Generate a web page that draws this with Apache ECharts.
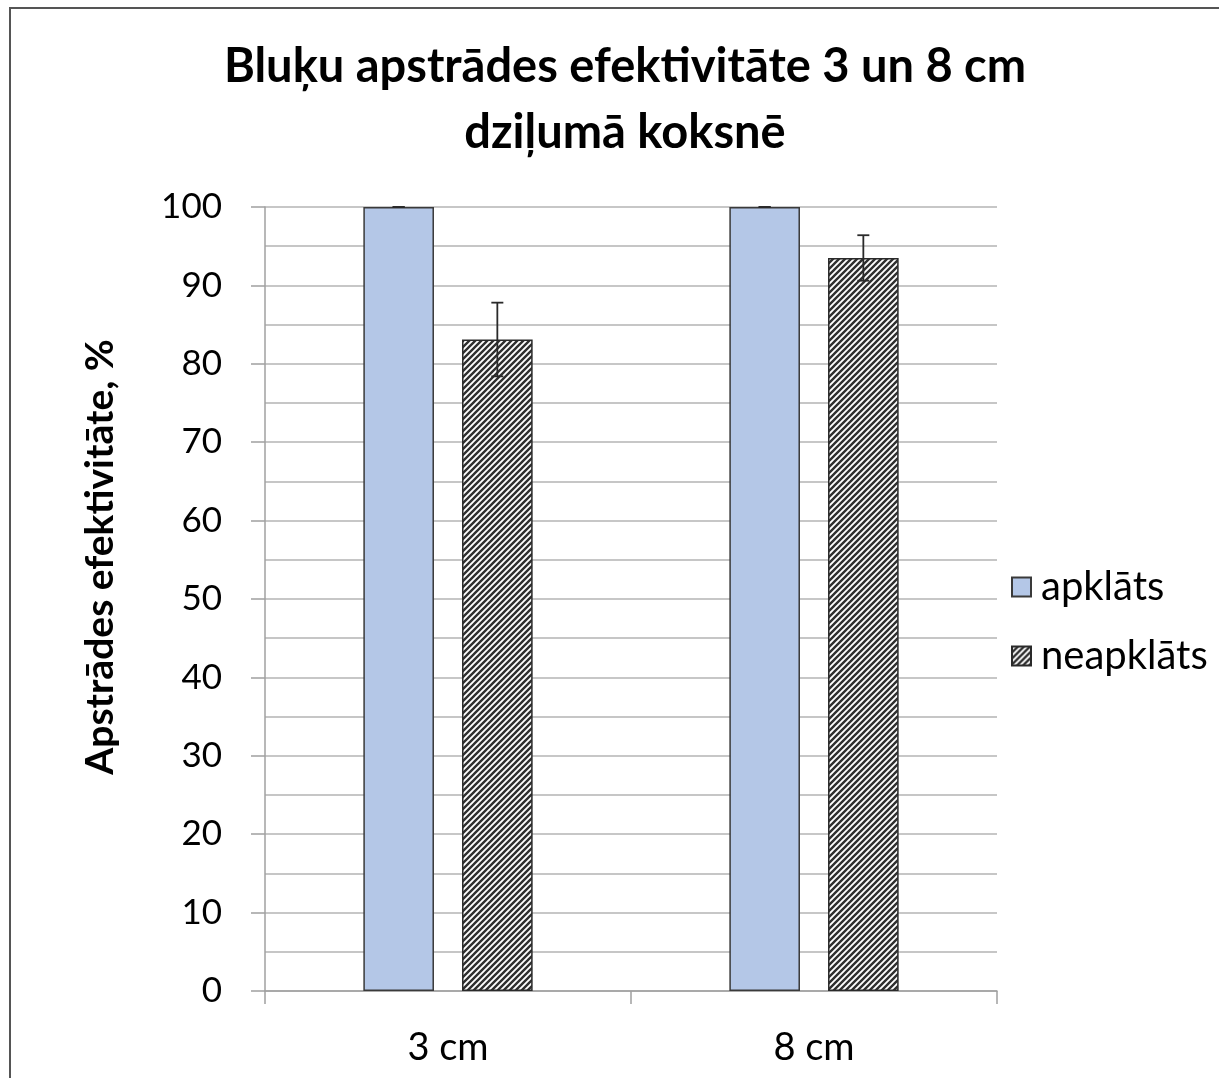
<!DOCTYPE html>
<html>
<head>
<meta charset="utf-8">
<script src="https://cdn.jsdelivr.net/npm/echarts@6/dist/echarts.min.js"></script>
<style>html,body{margin:0;padding:0;background:#fff;}#c{width:1219px;height:1078px;}</style>
</head>
<body>
<div id="c"></div>
<script>
const categories = ['3 cm', '8 cm'];
const seriesNames = ['apklāts', 'neapklāts'];
const apklats = [100, 100];
const neapklats = [83.1, 93.5];
const apklatsErr = [0, 0];
const neapklatsErr = [4.7, 2.9];
const yTicks = [0, 10, 20, 30, 40, 50, 60, 70, 80, 90, 100];
const yAxisTitle = 'Apstrādes efektivitāte, %';
const chartTitle = 'Bluķu apstrādes efektivitāte 3 un 8 cm\ndziļumā koksnē';

const FONT = 'Lato';

function hatch() {
  const s = 6;
  const c = document.createElement('canvas');
  c.width = s; c.height = s;
  const g = c.getContext('2d');
  g.fillStyle = '#ffffff';
  g.fillRect(0, 0, s, s);
  g.strokeStyle = '#303030';
  g.lineWidth = 2.4;
  g.beginPath();
  g.moveTo(-1, s + 1); g.lineTo(s + 1, -1);
  g.moveTo(-1 - s, s + 1); g.lineTo(1, -1);
  g.moveTo(s - 1, s + 1); g.lineTo(2 * s + 1, -1);
  g.stroke();
  return c;
}
const pattern = { image: hatch(), repeat: 'repeat' };

const BAR_W = 0.193, BAR_GAP = 0.397;

function errSeries(vals, errs, side) {
  return {
    type: 'custom',
    silent: true,
    z: 5,
    data: vals.map((v, i) => [i, v, errs[i]]),
    renderItem: function (params, api) {
      const i = api.value(0), v = api.value(1), e = api.value(2);
      const band = api.size([1, 0])[0];
      const off = side * band * BAR_W * (1 + BAR_GAP) / 2;
      const top = api.coord([i, v + e]);
      const bot = api.coord([i, v - e]);
      const x = top[0] + off;
      const cap = 6;
      const st = { stroke: '#2a2a2a', lineWidth: 1.8 };
      return {
        type: 'group',
        children: [
          { type: 'line', shape: { x1: x, y1: top[1], x2: x, y2: bot[1] }, style: st },
          { type: 'line', shape: { x1: x - cap, y1: top[1], x2: x + cap, y2: top[1] }, style: st },
          { type: 'line', shape: { x1: x - cap, y1: bot[1], x2: x + cap, y2: bot[1] }, style: st }
        ]
      };
    }
  };
}

const chart = echarts.init(document.getElementById('c'));
chart.setOption({
  backgroundColor: '#fff',
  animation: false,
  title: {
    text: chartTitle,
    left: 620,
    textAlign: 'center',
    top: 29,
    textStyle: { fontFamily: FONT, fontWeight: 'bold', fontSize: 47, lineHeight: 66, color: '#000' }
  },
  graphic: [{
    type: 'rect',
    shape: { x: 10, y: 8, width: 1400, height: 1200 },
    style: { fill: 'none', stroke: '#555', lineWidth: 2 },
    silent: true
  }, {
    type: 'text',
    x: 100, y: 557,
    rotation: Math.PI / 2,
    style: { text: yAxisTitle, fontFamily: FONT, fontWeight: 'bold', fontSize: 39, fill: '#000',
      align: 'center', verticalAlign: 'middle' },
    silent: true
  }],
  legend: {
    orient: 'vertical',
    left: 1006,
    top: 562,
    itemWidth: 19,
    itemHeight: 19,
    itemGap: 29,
    icon: 'rect',
    data: seriesNames,
    textStyle: { fontFamily: FONT, fontSize: 40, lineHeight: 40, color: '#000', padding: [0, 0, 0, 5] }
  },
  grid: { left: 265, right: 222, top: 207, bottom: 87, containLabel: false },
  xAxis: {
    type: 'category',
    data: categories,
    axisLine: { lineStyle: { color: '#a0a0a0', width: 1.5 } },
    axisTick: { show: true, length: 13, lineStyle: { color: '#a0a0a0', width: 1.5 } },
    axisLabel: { fontFamily: FONT, fontSize: 38, color: '#000', margin: 38 }
  },
  yAxis: {
    type: 'value',
    min: 0, max: 100, interval: 10,
    axisLine: { show: true, lineStyle: { color: '#a0a0a0', width: 1.5 } },
    axisTick: { show: true, length: 14, lineStyle: { color: '#a0a0a0', width: 1.5 } },
    axisLabel: { fontFamily: FONT, fontSize: 35, color: '#000', margin: 43,
      formatter: v => yTicks.indexOf(v) >= 0 ? String(v) : '' },
    splitLine: { show: true, lineStyle: { color: '#b4b4b4', width: 1.5 } },
    minorTick: { show: false, splitNumber: 2 },
    minorSplitLine: { show: true, lineStyle: { color: '#b4b4b4', width: 1.5 } }
  },
  series: [
    {
      name: seriesNames[0], type: 'bar', data: apklats,
      barWidth: (BAR_W * 100) + '%', barGap: (BAR_GAP * 100) + '%',
      itemStyle: { color: '#b4c7e7', borderColor: '#3a3a3a', borderWidth: 1.5 }
    },
    {
      name: seriesNames[1], type: 'bar', data: neapklats,
      barWidth: (BAR_W * 100) + '%', barGap: (BAR_GAP * 100) + '%',
      itemStyle: { color: pattern, borderColor: '#2a2a2a', borderWidth: 1.5 }
    },
    errSeries(apklats, apklatsErr, -1),
    errSeries(neapklats, neapklatsErr, 1)
  ]
});
</script>
</body>
</html>
